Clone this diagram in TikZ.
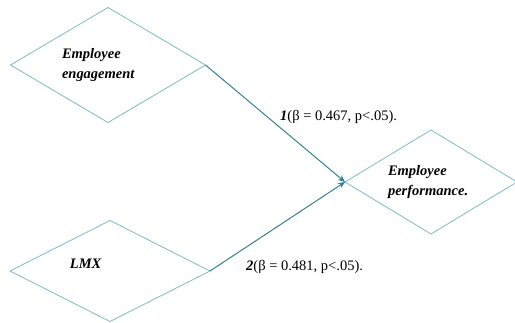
\documentclass[tikz,border=0pt]{standalone}
\usepackage{fontspec}
\setmainfont{Liberation Serif}
\usetikzlibrary{shapes.geometric, arrows.meta}

\definecolor{boxline}{RGB}{125,185,204}
\definecolor{pathline}{RGB}{52,128,150}

\begin{document}
\begin{tikzpicture}[
		x=1pt, y=-1pt,
		font=\fontsize{14.5}{20}\selectfont,
		% Style for the diamonds
		var/.style={
			diamond, draw=boxline, line width=0.8pt,
			inner sep=0pt, outer sep=0pt, align=left, shape aspect=1.7,
			font=\fontsize{14.5}{20}\selectfont\bfseries\itshape
		},
		% Style for the paths and their labels
		path arrow/.style={draw=pathline, line width=1pt, -{Stealth[length=7pt, width=6pt]}},
		coef label/.style={anchor=west, inner sep=0pt}
	]
	\useasboundingbox (0,0) rectangle (515,322);

	% Variables
	\node[var, minimum width=195pt, minimum height=115pt, text width=92pt] (engage) at (108,65) {Employee\\engagement};
	\node[var, minimum width=200pt, minimum height=101pt, text width=80pt, text depth=14pt] (lmx) at (110,271) {LMX};
	\node[var, minimum width=172pt, minimum height=104pt, text width=86pt] (perf) at (431,182) {Employee\\performance.};

	% Paths
	\draw[path arrow] (engage.east) -- (perf.west);
	\draw[path arrow] (lmx.east) -- (perf.west);

	\node[coef label] (coefA) at (280,117) {\textbf{\textit{1}}(β = 0.467, p<.05).};
	\node[coef label] (coefB) at (246,267) {\textbf{\textit{2}}(β = 0.481, p<.05).};
\end{tikzpicture}
\end{document}
